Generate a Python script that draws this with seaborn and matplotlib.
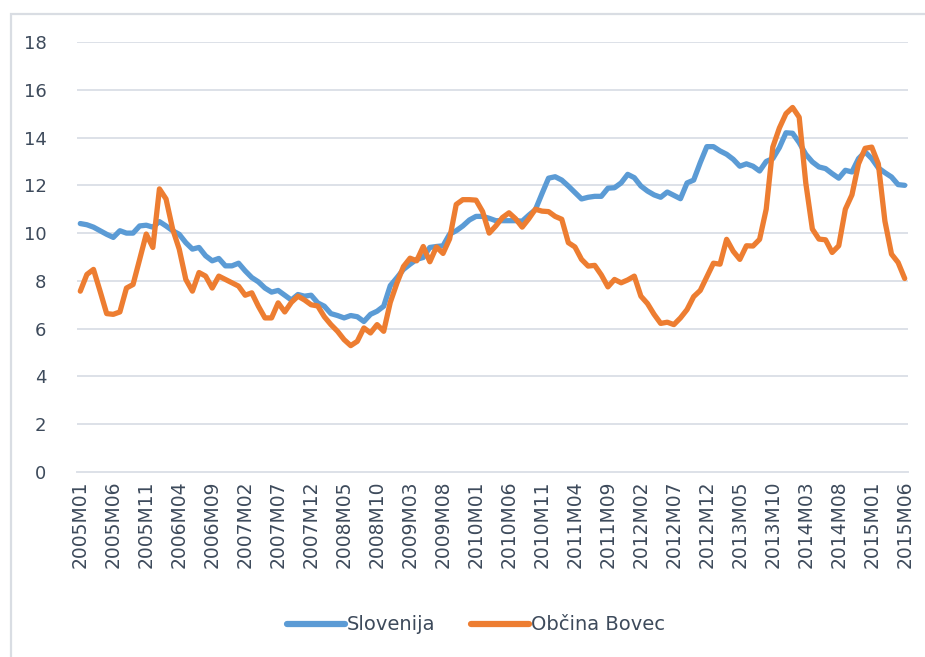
import matplotlib
matplotlib.use("Agg")
import matplotlib.pyplot as plt
import matplotlib.patches as patches
from matplotlib.ticker import MultipleLocator
import seaborn as sns
import pandas as pd

# monthly values, 2005M01 .. 2015M06
months = [f"{y}M{m:02d}" for y in range(2005, 2016) for m in range(1, 13)][:126]

slovenija = [
    10.4, 10.35, 10.25, 10.1, 9.95, 9.82, 10.1, 10.0, 10.0, 10.3,
    10.33, 10.25, 10.48, 10.3, 10.1, 9.95, 9.6, 9.33, 9.4, 9.05,
    8.84, 8.94, 8.63, 8.63, 8.74, 8.42, 8.14, 7.96, 7.7, 7.53,
    7.6, 7.4, 7.2, 7.43, 7.36, 7.4, 7.08, 6.94, 6.63, 6.55,
    6.45, 6.55, 6.5, 6.3, 6.6, 6.73, 6.94, 7.8, 8.13, 8.48,
    8.7, 8.9, 8.98, 9.4, 9.44, 9.47, 9.96, 10.1, 10.3, 10.55,
    10.7, 10.7, 10.62, 10.52, 10.52, 10.52, 10.52, 10.5, 10.75, 10.98,
    11.65, 12.3, 12.36, 12.22, 11.97, 11.7, 11.43, 11.5, 11.54, 11.54,
    11.88, 11.9, 12.1, 12.46, 12.32, 11.97, 11.76, 11.6, 11.5, 11.72,
    11.58, 11.44, 12.1, 12.22, 12.95, 13.62, 13.62, 13.44, 13.3, 13.09,
    12.8, 12.9, 12.8, 12.6, 13.0, 13.12, 13.58, 14.2, 14.18, 13.79,
    13.3, 12.98, 12.77, 12.7, 12.49, 12.3, 12.63, 12.56, 13.12, 13.4,
    13.12, 12.73, 12.53, 12.35, 12.03, 12.0,
]

bovec = [
    7.57, 8.27, 8.48, 7.57, 6.63, 6.6, 6.7, 7.7, 7.85, 8.9,
    9.96, 9.4, 11.85, 11.43, 10.17, 9.33, 8.06, 7.57, 8.35, 8.2,
    7.7, 8.2, 8.06, 7.92, 7.78, 7.4, 7.5, 6.94, 6.45, 6.45,
    7.08, 6.7, 7.1, 7.36, 7.2, 7.0, 6.95, 6.5, 6.17, 5.89,
    5.54, 5.29, 5.47, 6.03, 5.82, 6.17, 5.89, 7.1, 7.9, 8.6,
    8.95, 8.84, 9.44, 8.8, 9.42, 9.15, 9.76, 11.2, 11.4, 11.4,
    11.38, 10.9, 10.0, 10.3, 10.65, 10.85, 10.6, 10.25, 10.6, 11.0,
    10.92, 10.9, 10.7, 10.58, 9.6, 9.42, 8.9, 8.62, 8.65, 8.25,
    7.75, 8.06, 7.92, 8.04, 8.2, 7.36, 7.05, 6.6, 6.22, 6.27,
    6.17, 6.45, 6.8, 7.34, 7.6, 8.17, 8.74, 8.7, 9.74, 9.24,
    8.9, 9.47, 9.46, 9.74, 11.0, 13.6, 14.4, 15.0, 15.26, 14.85,
    12.1, 10.17, 9.75, 9.72, 9.19, 9.47, 11.0, 11.6, 12.9, 13.55,
    13.6, 12.9, 10.5, 9.12, 8.77, 8.1,
]

series_names = ["Slovenija", "Občina Bovec"]
colors = ["#5B9BD5", "#ED7D31"]
text_color = "#3d4a5b"
grid_color = "#dde1e8"

df = pd.DataFrame({
    "idx": list(range(len(months))) * 2,
    "value": slovenija + bovec,
    "series": [series_names[0]] * len(months) + [series_names[1]] * len(months),
})

sns.set_style("white")
plt.rcParams["font.family"] = ["DejaVu Sans"]

fig = plt.figure(figsize=(9.25, 6.57), dpi=100)
ax = fig.add_axes([77 / 925, 1 - 472 / 657, (908 - 77) / 925, (472 - 42) / 657])

sns.lineplot(data=df, x="idx", y="value", hue="series", palette=colors,
             linewidth=3.8, ax=ax, legend=True, solid_capstyle="round")

ax.set_xlim(-0.5, len(months) - 0.5)
ax.set_ylim(0, 18)
ax.yaxis.set_major_locator(MultipleLocator(2))
ax.grid(axis="y", color=grid_color, linewidth=1.4)
ax.set_axisbelow(True)
for s in ["top", "right", "left"]:
    ax.spines[s].set_visible(False)
ax.spines["bottom"].set_color(grid_color)
ax.spines["bottom"].set_linewidth(1.4)

tick_pos = list(range(0, len(months), 5))
ax.set_xticks(tick_pos)
ax.set_xticklabels([months[i] for i in tick_pos], rotation=90,
                   fontsize=13.5, color=text_color)
ax.set_xticks([i - 0.5 for i in range(len(months) + 1)], minor=True)
ax.tick_params(axis="x", which="major", length=0, pad=6)
ax.tick_params(axis="x", which="minor", length=6, color=grid_color, width=1)
ax.tick_params(axis="y", length=0, pad=22, labelsize=13, labelcolor=text_color)
ax.set_xlabel("")
ax.set_ylabel("")

handles, labels = ax.get_legend_handles_labels()
leg = ax.legend(handles, labels, loc="center", bbox_to_anchor=(476 / 925, 1 - 625 / 657),
                bbox_transform=fig.transFigure, ncol=2, frameon=False,
                fontsize=14, handlelength=3.0, columnspacing=1.8, handletextpad=0.1)
for t in leg.get_texts():
    t.set_color(text_color)
for h in leg.get_lines():
    h.set_linewidth(4.5)

# outer chart-area frame, cut off on the right and bottom
fig.patches.append(patches.Rectangle((10.5 / 925, -0.1), 1.2, 1 - 13.5 / 657 + 0.1,
                                     transform=fig.transFigure, fill=False,
                                     edgecolor="#d9dde3", linewidth=1.6))

fig.savefig("out.png", dpi=100)
